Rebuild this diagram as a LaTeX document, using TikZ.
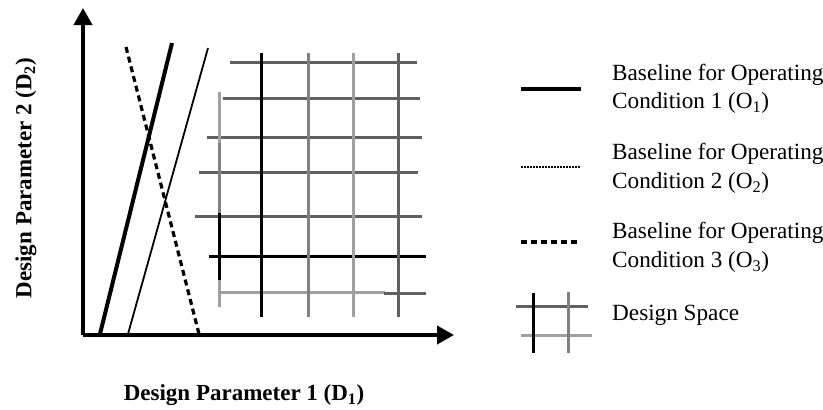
\documentclass[tikz,border=0pt]{standalone}
\usepackage{fontspec}
\setmainfont{Liberation Serif}
\usetikzlibrary{arrows.meta}
\definecolor{gA}{HTML}{606060}
\definecolor{gB}{HTML}{808080}
\definecolor{gC}{HTML}{A0A0A0}
\tikzset{
  axisline/.style={line width=3.8pt,-{Triangle[length=17pt,width=18pt]}},
  baseone/.style={line width=4pt},
  basetwo/.style={line width=1.8pt},
  basetwoleg/.style={line width=2pt,dash pattern=on 2pt off 1pt},
  basethree/.style={line width=3.2pt,dash pattern=on 6pt off 4pt},
  gridline/.style={line width=3pt},
  legtext/.style={anchor=west,align=left,inner sep=0pt,font=\fontsize{23.2}{28.5}\selectfont},
  axislabel/.style={inner sep=0pt,font=\fontsize{23}{26}\selectfont\bfseries}
}
\begin{document}
\begin{tikzpicture}[x=1pt,y=-1pt]
\useasboundingbox (0,0) rectangle (823,410);
% axes
\coordinate (o) at (83,335);
\coordinate (ytip) at (83,8);
\coordinate (xtip) at (454,335);
\draw[axisline] (o) -- (ytip);
\draw[axisline] (o) -- (xtip);
% baselines
\coordinate (a1) at (100,334); \coordinate (a2) at (172,43);
\coordinate (b1) at (128,334); \coordinate (b2) at (208,48);
\coordinate (c1) at (126,47);  \coordinate (c2) at (199,334);
\draw[baseone] (a1) -- (a2);
\draw[basetwo] (b1) -- (b2);
\draw[basethree] (c1) -- (c2);
% design space grid: horizontal
\draw[gridline,gA] (230,62) -- (417,62);
\draw[gridline,gA] (223,98) -- (420,98);
\draw[gridline,gA] (207,137) -- (422,137);
\draw[gridline,gA] (199,172) -- (418,172);
\draw[gridline,gA] (195,216) -- (422,216);
\draw[gridline,black] (209,256) -- (426,256);
\draw[gridline,gC] (220,292) -- (385,292);
\draw[gridline,gA] (384,293) -- (426,293);
% vertical
\draw[gridline,gC] (219,92) -- (219,143);
\draw[gridline,gB] (219,143) -- (219,213);
\draw[gridline,black] (219,213) -- (219,280);
\draw[gridline,gC] (219,280) -- (219,307);
\draw[gridline,black] (261,53) -- (261,317);
\draw[gridline,gB] (308,53) -- (308,317);
\draw[gridline,gC] (353,53) -- (353,317);
\draw[gridline,gA] (398,53) -- (398,317);
% axis labels
\node[axislabel] (xl) at (244,395) {Design Parameter 1 (D\textsubscript{1})};
\node[axislabel,rotate=90] (yl) at (26,178) {Design Parameter 2 (D\textsubscript{2})};
% legend
\coordinate (l1a) at (521,89); \coordinate (l1b) at (581,89);
\coordinate (l2a) at (521,167); \coordinate (l2b) at (580,167);
\coordinate (l3a) at (521,242); \coordinate (l3b) at (580,242);
\draw[baseone] (l1a) -- (l1b);
\draw[basetwoleg] (l2a) -- (l2b);
\draw[basethree] (l3a) -- (l3b);
\node[legtext] (t1) at (612,89) {Baseline for Operating\\Condition 1 (O\textsubscript{1})};
\node[legtext] (t2) at (612,168.5) {Baseline for Operating\\Condition 2 (O\textsubscript{2})};
\node[legtext] (t3) at (612,247.5) {Baseline for Operating\\Condition 3 (O\textsubscript{3})};
% legend grid icon
\draw[gridline,gA] (516,306) -- (588,306);
\draw[gridline,gC] (521,335) -- (592,335);
\draw[gridline,black] (533,293) -- (533,353);
\draw[gridline,gB] (568,292) -- (568,353);
\node[legtext] (t4) at (612,315) {Design Space};
\end{tikzpicture}
\end{document}
